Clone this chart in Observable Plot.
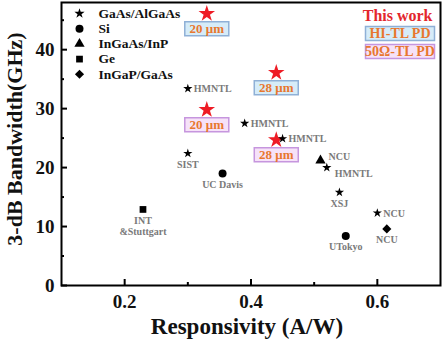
<!DOCTYPE html>
<html>
<head>
<meta charset="utf-8">
<script src="https://cdn.jsdelivr.net/npm/d3@7"></script>
<script src="https://cdn.jsdelivr.net/npm/@observablehq/plot@0.6"></script>
<style>
  html, body { margin: 0; padding: 0; background: #ffffff; }
  #chart { width: 444px; height: 339px; }
  #chart svg, #chart svg text, #chart svg g { font-family: "Liberation Serif", "DejaVu Serif", serif !important; }
</style>
</head>
<body>
<div id="chart"></div>
<script>
// ---------- data ----------
const legendNames = ["GaAs/AlGaAs", "Si", "InGaAs/InP", "Ge", "InGaP/GaAs"];
const legendSymbols = ["star", "circle", "triangle", "square", "diamond2"];

const refX = [0.30, 0.30, 0.39, 0.45, 0.52, 0.54, 0.60, 0.355, 0.55, 0.51, 0.229, 0.615];
const refY = [33.4, 22.4, 27.5, 24.9, 20.0, 15.8, 12.3, 19.0, 8.4, 21.2, 12.9, 9.6];
const refMaterial = ["GaAs/AlGaAs", "GaAs/AlGaAs", "GaAs/AlGaAs", "GaAs/AlGaAs", "GaAs/AlGaAs", "GaAs/AlGaAs", "GaAs/AlGaAs",
                     "Si", "Si", "InGaAs/InP", "Ge", "InGaP/GaAs"];
const refLabel = ["HMNTL", "SIST", "HMNTL", "HMNTL", "HMNTL", "XSJ", "NCU", "UC Davis", "UTokyo", "NCU", "INT\n&Stuttgart", "NCU"];
const refLabelPos = ["right", "below", "right", "right", "rightBelow", "below", "right", "below", "below", "rightAbove", "below", "below"];

const workX = [0.33, 0.44, 0.33, 0.44];
const workY = [46.1, 36.1, 29.8, 24.7];
const workSize = ["20 μm", "28 μm", "20 μm", "28 μm"];
const workType = ["HI-TL PD", "HI-TL PD", "50Ω-TL PD", "50Ω-TL PD"];

const typeNames = ["HI-TL PD", "50Ω-TL PD"];

const xMajor = [0.2, 0.4, 0.6];
const xMajorLabels = ["0.2", "0.4", "0.6"];
const xMinor = [0.3, 0.5];
const yMajor = [0, 10, 20, 30, 40];
const yMinor = [5, 15, 25, 35, 45];

// ---------- tables ----------
const refs = refX.map((x, i) => ({x, y: refY[i], material: refMaterial[i], label: refLabel[i], pos: refLabelPos[i]}));
const work = workX.map((x, i) => ({x, y: workY[i], size: workSize[i], type: workType[i]}));
const symbolOf = Object.fromEntries(legendNames.map((n, i) => [n, legendSymbols[i]]));
const rOf = {"star": 2.9, "circle": 4, "triangle": 3.8, "square": 3.8, "diamond2": 4.1};

const fillOf = {"HI-TL PD": "#d6ecf8", "50Ω-TL PD": "#f6e2f8"};
const strokeOf = {"HI-TL PD": "#8fb0d6", "50Ω-TL PD": "#c696de"};

function boxSymbol(w, h) {
  return {draw(ctx) { ctx.rect(-w / 2, -h / 2, w, h); }};
}

const labelGray = "#7a7a7a";
const orange = "#e8772e";

const marks = [];

// axes ticks (inward)
marks.push(Plot.axisX({ticks: xMajor, tickSize: -6, tickFormat: () => "", strokeWidth: 2, label: null}));
marks.push(Plot.axisX({ticks: xMinor, tickSize: -3, tickFormat: () => "", strokeWidth: 2, label: null}));
marks.push(Plot.axisX({ticks: xMajor, tickSize: 0, tickPadding: 9, tickFormat: d => xMajorLabels[xMajor.indexOf(d)], fontSize: 19, fontWeight: "bold", fill: "#111", label: null}));
marks.push(Plot.axisY({ticks: yMajor, tickSize: -6, tickFormat: () => "", strokeWidth: 2, label: null}));
marks.push(Plot.axisY({ticks: yMinor, tickSize: -3, tickFormat: () => "", strokeWidth: 2, label: null}));
marks.push(Plot.axisY({ticks: yMajor, tickSize: 0, tickPadding: 7, fontSize: 19, fontWeight: "bold", fill: "#111", label: null}));

// axis labels
marks.push(Plot.text(["Responsivity (A/W)"], {frameAnchor: "bottom", dy: 41, dx: -4, lineAnchor: "middle", fontSize: 23, fontWeight: "bold", fill: "#111"}));
marks.push(Plot.text(["3-dB Bandwidth(GHz)"], {frameAnchor: "left", dx: -47, dy: -5, rotate: -90, textAnchor: "middle", lineAnchor: "middle", fontSize: 22, fontWeight: "bold", fill: "#111"}));

// this work: red stars + size boxes
marks.push(Plot.dot(work, {x: "x", y: "y", symbol: "star", r: 5.2, fill: "#ee1c25", stroke: "none"}));
typeNames.forEach(t => {
  const sub = work.filter(d => d.type === t);
  marks.push(Plot.dot(sub, {x: "x", y: "y", dy: 15, symbol: boxSymbol(44, 14), r: 1, fill: fillOf[t], stroke: strokeOf[t], strokeWidth: 1.5}));
  marks.push(Plot.text(sub, {x: "x", y: "y", dy: 15, text: "size", fontSize: 13, fontWeight: "bold", fill: orange}));
});

// reference points
legendNames.forEach(n => {
  const sub = refs.filter(d => d.material === n);
  marks.push(Plot.dot(sub, {x: "x", y: "y", symbol: symbolOf[n], r: rOf[symbolOf[n]], fill: "#000", stroke: "none"}));
});

// reference labels
const posOpts = {
  right: {dx: 6, dy: 0, textAnchor: "start"},
  rightBelow: {dx: 8, dy: 6, textAnchor: "start"},
  rightAbove: {dx: 8, dy: -4, textAnchor: "start"},
  below: {dx: 0, dy: 6, textAnchor: "middle", lineAnchor: "top"}
};
Object.entries(posOpts).forEach(([p, o]) => {
  const sub = refs.filter(d => d.pos === p);
  marks.push(Plot.text(sub, {x: "x", y: "y", text: "label", fontSize: 10, fontWeight: "bold", fill: labelGray, lineHeight: 1.15, ...o}));
});

// legend (symbols)
legendNames.forEach((n, i) => {
  const s = legendSymbols[i];
  marks.push(Plot.dot([n], {frameAnchor: "top-left", dx: 18, dy: 11 + i * 15.2, symbol: s, r: rOf[s] + (s === "star" ? 0.3 : 0), fill: "#000"}));
  marks.push(Plot.text([n], {frameAnchor: "top-left", dx: 37, dy: 11 + i * 15.2, textAnchor: "start", lineAnchor: "middle", fontSize: 13.5, fontWeight: "bold", fill: "#111"}));
});

// this-work legend
marks.push(Plot.text(["This work"], {frameAnchor: "top-right", dx: -8, dy: 13, textAnchor: "end", lineAnchor: "middle", fontSize: 16, fontWeight: "bold", fill: "#e3262d"}));
typeNames.forEach((t, i) => {
  marks.push(Plot.dot([t], {frameAnchor: "top-right", dx: -40.5, dy: 31 + i * 18, symbol: boxSymbol(69, 14), r: 1, fill: fillOf[t], stroke: strokeOf[t], strokeWidth: 1.5}));
  marks.push(Plot.text([t], {frameAnchor: "top-right", dx: -40.5, dy: 31 + i * 18, textAnchor: "middle", lineAnchor: "middle", fontSize: 14, fontWeight: "bold", fill: orange}));
});

marks.push(Plot.frame({stroke: "#000", strokeWidth: 2}));

const chart = Plot.plot({
  width: 444,
  height: 339,
  marginLeft: 61,
  marginRight: 4,
  marginTop: 2,
  marginBottom: 54,
  x: {domain: [0.1, 0.7], label: null},
  y: {domain: [0, 48], label: null},
  style: {background: "#ffffff", overflow: "visible"},
  marks
});
document.getElementById("chart").appendChild(chart);
</script>
</body>
</html>
